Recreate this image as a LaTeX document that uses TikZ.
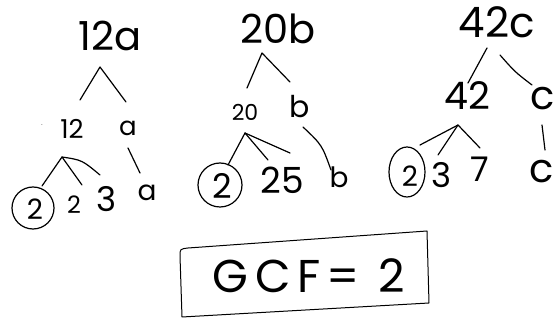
\documentclass[tikz,border=0pt]{standalone}
\usepackage{fontspec}
\setmainfont{Poppins}
\usetikzlibrary{shapes.geometric}
\tikzset{
  hw/.style={inner sep=0pt, text=black},
  fs/.style={font=\fontsize{#1}{#1}\selectfont},
  stroke/.style={line width=1.2pt, line cap=round, line join=round},
  ring/.style={draw, line width=1.2pt, inner sep=0pt},
}
\begin{document}
\begin{tikzpicture}[x=1pt,y=-1pt]
\useasboundingbox (0,0) rectangle (560,320);
% ---------- tree 1 ----------
\node[hw,fs=40] (t1) at (110,36) {12a};
\node[hw,fs=26] (t1n) at (72,129) {12};
\node[hw,fs=6] (t1dot) at (42,125) {.};
\node[hw,fs=26] (t1v) at (128,128) {a};
\node[hw,fs=28] (t1c) at (35,209) {2};
\node[ring,circle,minimum size=42pt] (t1r) at (33,208) {};
\node[hw,fs=24] (t1b) at (74,205) {2};
\node[hw,fs=34] (t1d) at (107,199) {3};
\node[hw,fs=28] (t1e) at (147,193) {a};
\coordinate (p1) at (100,67);
\coordinate (q1a) at (80,100);
\coordinate (q1b) at (126,102);
\draw[stroke] (q1a) -- (p1) -- (q1b);
\coordinate (p2) at (62,157);
\coordinate (q2a) at (42,186);
\coordinate (q2b) at (82,185);
\coordinate (q2c) at (100,175);
\draw[stroke] (q2a) -- (p2) -- (q2b);
\draw[stroke] (p2) .. controls (82,160) .. (q2c);
\coordinate (p3) at (128,148);
\coordinate (q3) at (140,173);
\draw[stroke] (p3) -- (q3);
% ---------- tree 2 ----------
\node[hw,fs=40] (t2) at (278,29) {20b};
\node[hw,fs=22] (t2n) at (245,112) {20};
\node[hw,fs=30] (t2v) at (300,107) {b};
\node[ring,circle,minimum size=44pt] (t2r) at (220,185) {};
\node[hw,fs=34] (t2c) at (222,186) {2};
\node[hw,fs=36] (t2b) at (282,180) {25};
\node[hw,fs=28] (t2e) at (339,177) {b};
\coordinate (r1) at (262,53);
\coordinate (s1a) at (247,88);
\coordinate (s1b) at (290,82);
\draw[stroke] (s1a) -- (r1) -- (s1b);
\coordinate (r2) at (245,133);
\coordinate (s2a) at (228,165);
\coordinate (s2b) at (268,160);
\coordinate (s2c) at (290,153);
\draw[stroke] (s2a) -- (r2) -- (s2b);
\draw[stroke] (r2) -- (s2c);
\coordinate (r3) at (303,127);
\coordinate (s3) at (331,170);
\draw[stroke] (r3) .. controls (322,145) .. (s3);
% ---------- tree 3 ----------
\node[hw,fs=42] (t3) at (497,22) {42c};
\node[hw,fs=38] (t3n) at (467,96) {42};
\node[hw,fs=40] (t3v) at (543,99) {c};
\node[ring,ellipse,minimum width=36pt,minimum height=50pt] (t3r) at (407,172) {};
\node[hw,fs=28] (t3c) at (410,176) {2};
\node[hw,fs=34] (t3b) at (442,175) {3};
\node[hw,fs=34] (t3d) at (480,169) {7};
\node[hw,fs=40] (t3e) at (542,172) {c};
\coordinate (u1a) at (487,48);
\coordinate (v1a) at (468,83);
\coordinate (u1b) at (500,55);
\coordinate (v1b) at (532,85);
\draw[stroke] (u1a) -- (v1a);
\draw[stroke] (u1b) .. controls (515,72) .. (v1b);
\coordinate (u2) at (458,125);
\coordinate (v2a) at (420,145);
\coordinate (v2b) at (438,155);
\coordinate (v2c) at (480,148);
\draw[stroke] (v2a) -- (u2) -- (v2c);
\draw[stroke] (u2) -- (v2b);
\coordinate (u3) at (542,125);
\coordinate (v3) at (545,150);
\draw[stroke] (u3) -- (v3);
% ---------- answer box ----------
\node[hw,font=\fontsize{46}{46}\selectfont\addfontfeature{LetterSpace=14}] (gcf) at (309,276) {GCF= 2};
\coordinate (bTR) at (427,231);
\coordinate (bBR) at (429,303);
\coordinate (bBL) at (182,317);
\draw[line width=1pt, line join=round]
  (bBL) -- (180,256) .. controls (180,249) .. (188,248) -- (bTR) -- (bBR) -- cycle;
\end{tikzpicture}
\end{document}
